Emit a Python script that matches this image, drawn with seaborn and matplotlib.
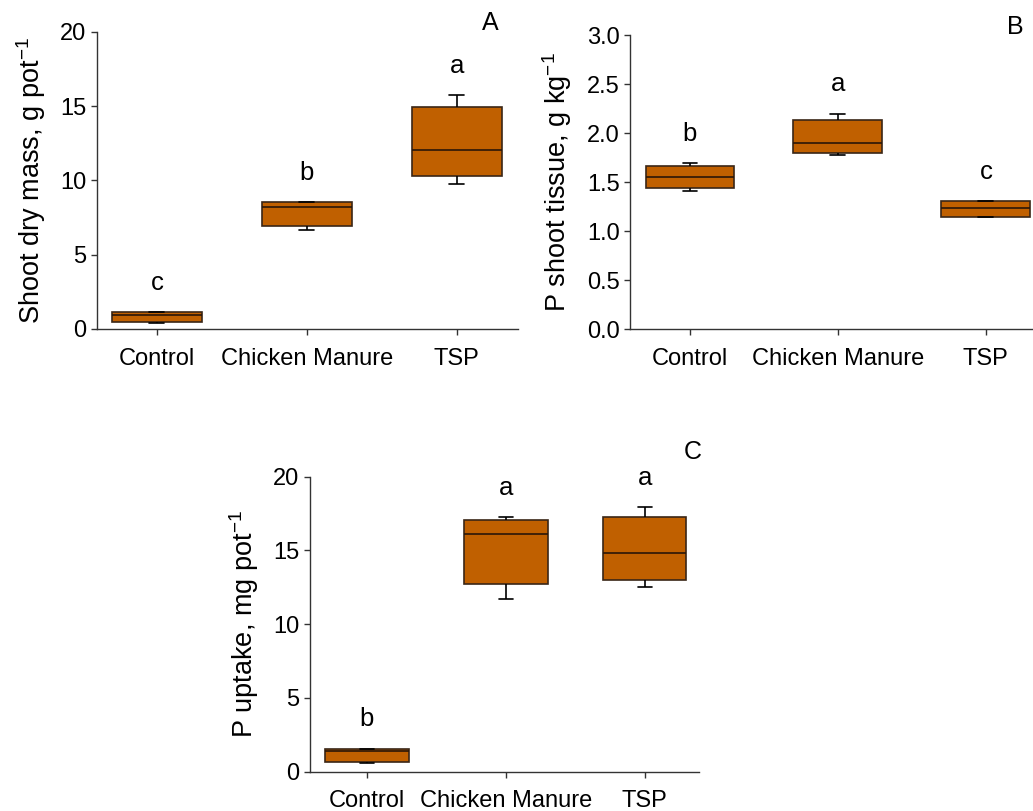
import matplotlib
matplotlib.use("Agg")
import matplotlib.pyplot as plt
import pandas as pd
import seaborn as sns

# Tratamentos (mesma ordem nos tres paineis)
tratamentos = ["Control", "Chicken Manure", "TSP"]

# Cada lista: [minimo, Q1, mediana, Q3, maximo]
massa_seca = {
    "Control": [0.42, 0.50, 0.94, 1.12, 1.12],
    "Chicken Manure": [6.67, 6.94, 8.19, 8.53, 8.53],
    "TSP": [9.78, 10.28, 12.03, 14.93, 15.74],
}
p_tecido = {
    "Control": [1.413, 1.437, 1.549, 1.665, 1.692],
    "Chicken Manure": [1.774, 1.794, 1.896, 2.130, 2.198],
    "TSP": [1.145, 1.145, 1.237, 1.305, 1.305],
}
p_absorcao = {
    "Control": [0.59, 0.68, 1.42, 1.54, 1.54],
    "Chicken Manure": [11.69, 12.73, 16.09, 17.06, 17.25],
    "TSP": [12.52, 13.02, 14.81, 17.25, 17.93],
}

letras_A = ["c", "b", "a"]
letras_B = ["b", "a", "c"]
letras_C = ["b", "a", "a"]

sns.set_theme(style="ticks")
plt.rcParams["font.family"] = ["Liberation Sans", "DejaVu Sans"]
plt.rcParams["mathtext.fontset"] = "custom"
plt.rcParams["mathtext.rm"] = "Liberation Sans"
plt.rcParams["mathtext.default"] = "regular"
plt.rcParams["text.color"] = "black"
plt.rcParams["axes.labelcolor"] = "black"

COR_CAIXA = "#C06000"
COR_BORDA = "#3a2616"
COR_EIXO = "#333333"

fig = plt.figure(figsize=(10.33, 8.11), dpi=100)
W, H = 1033, 811


def eixo_px(esq, topo, dir_, base):
    return fig.add_axes([esq / W, 1 - base / H, (dir_ - esq) / W, (base - topo) / H])


def painel(ax, dados, letras, ylim, yticks, ylabel, rotulo, xlim, rot_xy, pad_y):
    df = pd.DataFrame(
        [(t, v) for t in tratamentos for v in dados[t]], columns=["Tratamento", "Valor"]
    )
    sns.boxplot(
        data=df,
        x="Tratamento",
        y="Valor",
        order=tratamentos,
        color=COR_CAIXA,
        saturation=1,
        width=0.6,
        whis=(0, 100),
        showfliers=False,
        linewidth=1.2,
        boxprops=dict(edgecolor=COR_BORDA),
        whiskerprops=dict(color="black"),
        capprops=dict(color="black"),
        medianprops=dict(color="#2a1608"),
        capwidths=0.1,
        ax=ax,
    )
    topo = ylim[1]
    for i, t in enumerate(tratamentos):
        ax.text(i, max(dados[t]) + 0.1 * topo, letras[i], ha="center", va="center",
                fontsize=18.5, color="black")
    ax.set_ylim(*ylim)
    ax.set_xlim(*xlim)
    ax.set_yticks(yticks)
    ax.set_xlabel("")
    ax.set_ylabel(ylabel, fontsize=19.5, labelpad=pad_y)
    for lado in ["top", "right"]:
        ax.spines[lado].set_visible(False)
    for lado in ["left", "bottom"]:
        ax.spines[lado].set_color(COR_EIXO)
        ax.spines[lado].set_linewidth(1.0)
    ax.tick_params(axis="both", direction="out", length=4.5, width=1.0, color=COR_EIXO,
                   labelsize=17, labelcolor="black")
    ax.tick_params(axis="x", pad=9)
    ax.tick_params(axis="y", pad=3)
    fig.text(rot_xy[0] / W, 1 - rot_xy[1] / H, rotulo, fontsize=18, ha="center", va="center")


axA = eixo_px(97, 32, 518, 329)
painel(axA, massa_seca, letras_A, (0, 20), [0, 5, 10, 15, 20],
       r"Shoot dry mass, g pot$^{-1}$", "A", (-0.4, 2.41), (490, 23), 9)

axB = eixo_px(630, 35, 1045, 329.3)
painel(axB, p_tecido, letras_B, (0, 3.0), [0.0, 0.5, 1.0, 1.5, 2.0, 2.5, 3.0],
       r"P shoot tissue, g kg$^{-1}$", "B", (-0.405, 2.4), (1015, 27), 9)
axB.set_yticklabels([f"{v:.1f}" for v in [0.0, 0.5, 1.0, 1.5, 2.0, 2.5, 3.0]])

axC = eixo_px(310, 476.7, 699, 771.7)
painel(axC, p_absorcao, letras_C, (0, 20), [0, 5, 10, 15, 20],
       r"P uptake, mg pot$^{-1}$", "C", (-0.41, 2.39), (693, 452), 9)

fig.savefig("out.png", dpi=100)
